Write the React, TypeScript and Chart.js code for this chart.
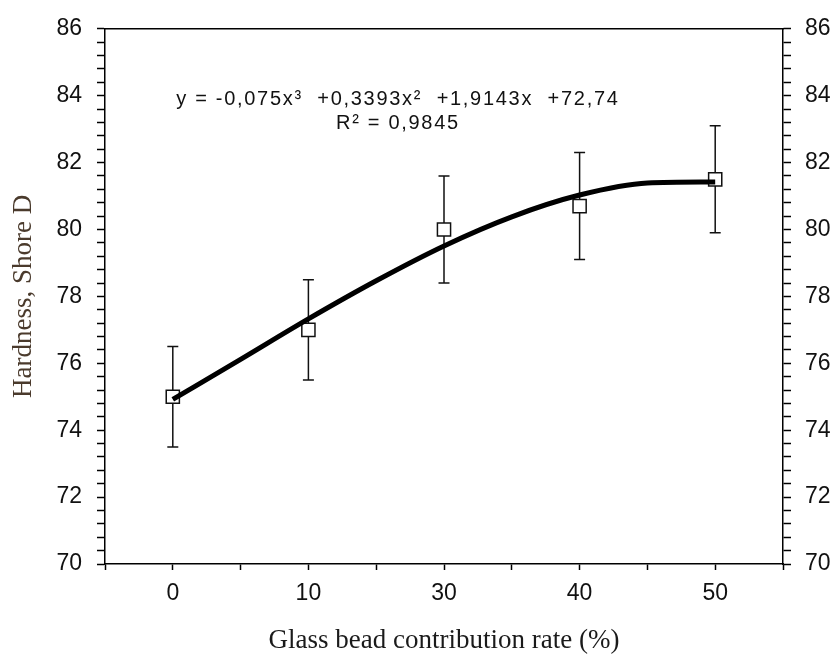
import React, { useEffect, useRef } from "react";
import { Chart, registerables } from "chart.js";

Chart.register(...registerables);

const categories = ["0", "10", "30", "40", "50"];
const hardness = [75.0, 77.0, 80.0, 80.7, 81.5];
const errLow = [73.5, 75.5, 78.4, 79.1, 79.9];
const errHigh = [76.5, 78.5, 81.6, 82.3, 83.1];
const trendPos = [0, 0.5, 1, 1.5, 2, 2.5, 3, 3.5, 4];
const trendVals = [74.92, 76.12, 77.33, 78.47, 79.51, 80.38, 81.03, 81.39, 81.42];
const equationText = "y = -0,075x³  +0,3393x²  +1,9143x  +72,74";
const r2Text = "R² = 0,9845";
const yTicksLabelled = [70, 72, 74, 76, 78, 80, 82, 84, 86];

const W = 834;
const H = 657;

const errorBarPlugin = {
  id: "errorBars",
  beforeDatasetsDraw(chart: any) {
    const xs = chart.scales.x;
    const ys = chart.scales.y;
    const ctx = chart.ctx;
    ctx.save();
    ctx.strokeStyle = "#111";
    ctx.lineWidth = 1.5;
    hardness.forEach((_, i) => {
      const x = xs.getPixelForValue(i);
      const yl = ys.getPixelForValue(errLow[i]);
      const yh = ys.getPixelForValue(errHigh[i]);
      ctx.beginPath();
      ctx.moveTo(x, yl);
      ctx.lineTo(x, yh);
      ctx.moveTo(x - 5.5, yl);
      ctx.lineTo(x + 5.5, yl);
      ctx.moveTo(x - 5.5, yh);
      ctx.lineTo(x + 5.5, yh);
      ctx.stroke();
    });
    ctx.restore();
  },
};

const equationPlugin = {
  id: "equation",
  afterDraw(chart: any) {
    const xs = chart.scales.x;
    const ys = chart.scales.y;
    const ctx = chart.ctx;
    ctx.save();
    ctx.fillStyle = "#111";
    ctx.font = "20px 'Liberation Sans', Arial, sans-serif";
    try {
      (ctx as any).letterSpacing = "1.7px";
    } catch (e) {}
    ctx.textAlign = "center";
    ctx.textBaseline = "middle";
    const cx = xs.getPixelForValue(1.66);
    ctx.fillText(equationText, cx, ys.getPixelForValue(83.9));
    ctx.fillText(r2Text, cx, ys.getPixelForValue(83.17));
    ctx.restore();
  },
};

function yTickLabel(v: number) {
  const r = Math.round(v);
  if (Math.abs(v - r) < 1e-6 && yTicksLabelled.includes(r)) return String(r);
  return "";
}

export default function App() {
  const ref = useRef<HTMLCanvasElement | null>(null);

  useEffect(() => {
    document.body.style.margin = "0";
    const canvas = ref.current;
    if (!canvas) return;
    const tickFont = { family: "'Liberation Sans', Arial, sans-serif", size: 23 };
    const chart = new Chart(canvas, {
      type: "scatter",
      data: {
        datasets: [
          {
            type: "line",
            label: "trend",
            data: trendPos.map((p, i) => ({ x: p, y: trendVals[i] })),
            borderColor: "#000",
            borderWidth: 5,
            pointRadius: 0,
            cubicInterpolationMode: "monotone",
            fill: false,
            order: 1,
          } as any,
          {
            type: "scatter",
            label: "Hardness",
            data: hardness.map((v, i) => ({ x: i, y: v })),
            pointStyle: "rect",
            pointRadius: 9.3,
            pointBackgroundColor: "#fff",
            pointBorderColor: "#111",
            pointBorderWidth: 1.5,
            order: 2,
          } as any,
        ],
      },
      options: {
        responsive: false,
        animation: false,
        events: [],
        layout: { padding: { top: 22, left: 0, right: 0, bottom: 0 } },
        plugins: {
          legend: { display: false },
          tooltip: { enabled: false },
        },
        scales: {
          x: {
            type: "linear",
            position: "bottom",
            min: -0.5,
            max: 4.5,
            afterBuildTicks: (scale: any) => {
              const t = [];
              for (let k = 0; k <= 10; k++) t.push({ value: -0.5 + k * 0.5 });
              scale.ticks = t;
            },
            ticks: {
              autoSkip: false,
              maxRotation: 0,
              padding: 10,
              color: "#111",
              font: tickFont,
              callback: (v: any) => {
                const n = Number(v);
                const r = Math.round(n);
                return Math.abs(n - r) < 1e-6 && r >= 0 && r < categories.length ? categories[r] : "";
              },
            },
            grid: { drawOnChartArea: false, drawTicks: true, tickLength: 6, tickColor: "#000", tickWidth: 1.5 },
            border: { display: true, color: "#000", width: 1.5 },
            title: {
              display: true,
              text: "Glass bead contribution rate (%)",
              color: "#1a1a1a",
              font: { family: "'Liberation Serif', 'Times New Roman', serif", size: 27 },
              padding: { top: 0, bottom: 0 },
            },
            afterFit: (scale: any) => {
              scale.height = 93;
            },
          },
          x2: {
            type: "linear",
            position: "top",
            min: -0.5,
            max: 4.5,
            ticks: { display: false },
            grid: { display: false, drawTicks: false },
            border: { display: true, color: "#000", width: 1.5 },
            afterFit: (scale: any) => {
              scale.height = 0;
            },
          },
          y: {
            type: "linear",
            position: "left",
            min: 70,
            max: 86,
            afterBuildTicks: (scale: any) => {
              const t = [];
              for (let k = 0; k <= 40; k++) t.push({ value: 70 + k * 0.4 });
              scale.ticks = t;
            },
            ticks: {
              autoSkip: false,
              padding: 15,
              color: "#111",
              font: tickFont,
              callback: (v: any) => yTickLabel(Number(v)),
            },
            grid: { drawOnChartArea: false, drawTicks: true, tickLength: 8, tickColor: "#000", tickWidth: 1.5 },
            border: { display: true, color: "#000", width: 1.5 },
            title: {
              display: true,
              text: "Hardness, Shore D",
              color: "#4a3a2c",
              font: { family: "'Liberation Serif', 'Times New Roman', serif", size: 27 },
              padding: { top: 8, bottom: 0 },
            },
            afterFit: (scale: any) => {
              scale.width = 105;
            },
          },
          y2: {
            type: "linear",
            position: "right",
            min: 70,
            max: 86,
            afterBuildTicks: (scale: any) => {
              const t = [];
              for (let k = 0; k <= 40; k++) t.push({ value: 70 + k * 0.4 });
              scale.ticks = t;
            },
            ticks: {
              autoSkip: false,
              padding: 14,
              color: "#111",
              font: tickFont,
              callback: (v: any) => yTickLabel(Number(v)),
            },
            grid: { drawOnChartArea: false, drawTicks: true, tickLength: 8, tickColor: "#000", tickWidth: 1.5 },
            border: { display: true, color: "#000", width: 1.5 },
            afterFit: (scale: any) => {
              scale.width = 51;
            },
          },
        },
      } as any,
      plugins: [errorBarPlugin, equationPlugin],
    });
    return () => chart.destroy();
  }, []);

  return (
    <div style={{ width: W, height: H, background: "#fff" }}>
      <canvas ref={ref} width={W} height={H} style={{ display: "block" }} />
    </div>
  );
}
